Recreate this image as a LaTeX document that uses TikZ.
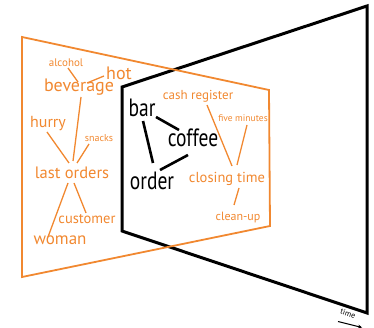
\documentclass[tikz,border=0pt]{standalone}
\usepackage{fontspec}
\setmainfont{PT Sans}
\usetikzlibrary{arrows.meta}
\definecolor{warm}{RGB}{241,136,48}
\begin{document}
\begin{tikzpicture}[x=1pt,y=-1pt,
  frame/.style={line width=3pt,black,line join=miter},
  plane/.style={line width=1.8pt,warm,line join=miter},
  oword/.style={text=warm,inner sep=1pt,font=\fontsize{#1}{#1}\selectfont},
  bword/.style={text=black,inner sep=1pt,xscale=0.78,font=\fontsize{#1}{#1}\selectfont},
  olink/.style={warm,line width=1.3pt},
  blink/.style={black,line width=2.6pt}]
\useasboundingbox (0,0) rectangle (374,328);

% the present moment: black frame receding along the time axis
\draw[frame] (122,87) -- (367,6) -- (367,313) -- (122,231) -- cycle;

% the earlier moment: orange plane
\draw[plane] (22,37) -- (269,90) -- (270,226) -- (22,277) -- cycle;

% orange word network
\node[oword=11] (alcohol) at (66,63) {alcohol};
\node[oword=18] (hot) at (119,73) {hot};
\node[oword=18] (beverage) at (79,87) {beverage};
\node[oword=16] (hurry) at (48,124) {hurry};
\node[oword=10] (snacks) at (99,138) {snacks};
\node[oword=16.5] (lastorders) at (72,173) {last orders};
\node[oword=14.5] (customer) at (87,219) {customer};
\node[oword=17] (woman) at (60,240) {woman};

\node[oword=13] (cash) at (198,96) {cash register};
\node[oword=9.5] (five) at (243,118) {five minutes};
\node[oword=14.5] (closing) at (227,179) {closing time};
\node[oword=12] (clean) at (238,218) {clean-up};

\draw[olink] (68,68) -- (78,82);
\draw[olink] (104,76) -- (87,83);
\draw[olink] (81,97) -- (73,161);
\draw[olink] (47,132) -- (69,163);
\draw[olink] (89,144) -- (77,163);
\draw[olink] (74,183) -- (86,213);
\draw[olink] (68,183) -- (48,237);

\draw[olink] (207,105) -- (232,166);
\draw[olink] (247,125) -- (237,165);
\draw[olink] (239,188) -- (234,205);

% black word triangle
\node[bword=25] (bar) at (142,108) {bar};
\node[bword=25] (coffee) at (193,138) {coffee};
\node[bword=25] (order) at (152,181) {order};
\draw[blink] (156,117) -- (179,130);
\draw[blink] (143,121) -- (153,163);
\draw[blink] (188,155) -- (160,170);

% time axis label
\node[rotate=-18,inner sep=0pt,font=\fontsize{8}{8}\selectfont] (time) at (348,313.5) {time};
\coordinate (t0) at (338,321.5);
\coordinate (t1) at (362,327.5);
\draw[line width=1pt,-{Stealth[length=4pt,width=4pt]}] (t0) -- (t1);
\end{tikzpicture}
\end{document}
